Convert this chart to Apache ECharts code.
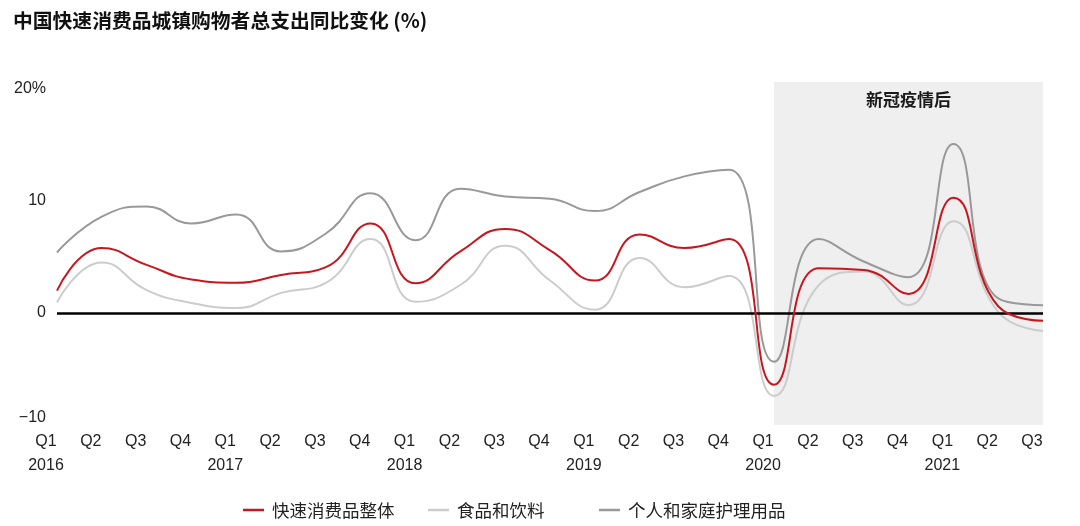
<!DOCTYPE html>
<html>
<head>
<meta charset="utf-8">
<script src="https://cdn.jsdelivr.net/npm/echarts@6/dist/echarts.min.js"></script>
<style>
html,body{margin:0;padding:0;background:#fff;}
#c{width:1080px;height:526px;}
</style>
</head>
<body>
<div id="c"></div>
<script>
var quarters = ['Q1','Q2','Q3','Q4','Q1','Q2','Q3','Q4','Q1','Q2','Q3','Q4','Q1','Q2','Q3','Q4','Q1','Q2','Q3','Q4','Q1','Q2','Q3'];
var years    = ['2016','','','','2017','','','','2018','','','','2019','','','','2020','','','','2021','',''];
var seriesNames = ['快速消费品整体','食品和饮料','个人和家庭护理用品'];
var total    = [2.0, 5.8, 4.3, 3.0, 2.7, 3.4, 4.1, 8.0, 2.65, 5.5, 7.5, 5.6, 2.9, 7.0, 5.8, 6.6, -6.4, 4.0, 3.85, 1.7, 10.3, 0.6, -0.7];
var food     = [0.95, 4.5, 2.05, 0.9, 0.45, 1.8, 2.7, 6.6, 1.0, 2.5, 6.0, 2.9, 0.3, 4.9, 2.3, 3.3, -7.4, 2.5, 3.7, 0.7, 8.2, 0.1, -1.6];
var personal = [5.4, 8.6, 9.5, 8.0, 8.8, 5.5, 7.1, 10.7, 6.5, 11.1, 10.4, 10.2, 9.1, 10.8, 12.2, 12.8, -4.35, 6.6, 4.6, 3.2, 15.1, 1.3, 0.7];
var shadeStart = 16, shadeEnd = 22;
var shadeLabel = '新冠疫情后';
var titleText = '中国快速消费品城镇购物者总支出同比变化 (%)';

var categories = quarters.map(function(q, i){ return years[i] ? q + '\n' + years[i] : q; });

var cjk = '"Noto Sans CJK SC", "Noto Sans", sans-serif';
var latin = '"Liberation Sans", Arial, sans-serif';
var colors = ['#c8161e', '#cccccc', '#999999'];

var chart = echarts.init(document.getElementById('c'));
function legendFor(name, left) {
  return {
    data: [name], left: left, top: 500, icon: 'rect', itemWidth: 21, itemHeight: 2.5,
    itemGap: 0, padding: 0,
    textStyle: { fontFamily: cjk, fontSize: 17.5, color: '#222', lineHeight: 20, padding: [0,0,0,3] },
    selectedMode: false
  };
}
chart.setOption({
  animation: false,
  title: { text: titleText, left: 13, top: 9, padding: 0, textStyle: { fontFamily: cjk, fontSize: 19.8, fontWeight: 'bold', color: '#111', lineHeight: 22 } },
  legend: [ legendFor(seriesNames[0], 243), legendFor(seriesNames[1], 428), legendFor(seriesNames[2], 599) ],
  grid: { left: 57, right: 37, top: 82, bottom: 101, containLabel: false },
  xAxis: {
    type: 'category', data: categories, boundaryGap: false,
    axisLine: { show: false }, axisTick: { show: false }, splitLine: { show: false },
    axisLabel: { interval: 0, margin: 5, fontFamily: latin, fontSize: 16, color: '#222', lineHeight: 24, padding: [0, 22, 0, 0] }
  },
  yAxis: {
    type: 'value', min: -10, max: 20.625, interval: 10,
    axisLine: { show: false }, axisTick: { show: false }, splitLine: { show: false },
    axisLabel: {
      margin: 11, fontFamily: latin, fontSize: 16, color: '#222',
      formatter: function(v){
        if (v === 20) return '20%';
        if (v === -10) return '{m|−10}';
        if (v % 10 === 0) return String(v);
        return '';
      },
      rich: { m: { fontFamily: latin, fontSize: 16, color: '#222', padding: [0,0,14,0] } }
    }
  },
  series: [
    {
      name: 'helper', type: 'line', data: [], z: 1, silent: true,
      markArea: {
        silent: true,
        itemStyle: { color: '#efefef' },
        label: { show: true, position: 'insideTop', distance: 9, fontFamily: cjk, fontSize: 17, fontWeight: 'bold', color: '#1a1a1a' },
        data: [[{ xAxis: shadeStart, name: shadeLabel }, { xAxis: shadeEnd }]]
      },
      markLine: {
        silent: true, symbol: 'none', label: { show: false },
        lineStyle: { color: '#000', width: 2.5, type: 'solid' },
        data: [{ yAxis: 0 }]
      }
    },
    { name: seriesNames[2], type: 'line', data: personal, smooth: 0.5, showSymbol: false, z: 3,
      lineStyle: { color: colors[2], width: 2 }, itemStyle: { color: colors[2] } },
    { name: seriesNames[1], type: 'line', data: food, smooth: 0.5, showSymbol: false, z: 4,
      lineStyle: { color: colors[1], width: 2 }, itemStyle: { color: colors[1] } },
    { name: seriesNames[0], type: 'line', data: total, smooth: 0.5, showSymbol: false, z: 5,
      lineStyle: { color: colors[0], width: 2 }, itemStyle: { color: colors[0] } }
  ]
});
</script>
</body>
</html>
